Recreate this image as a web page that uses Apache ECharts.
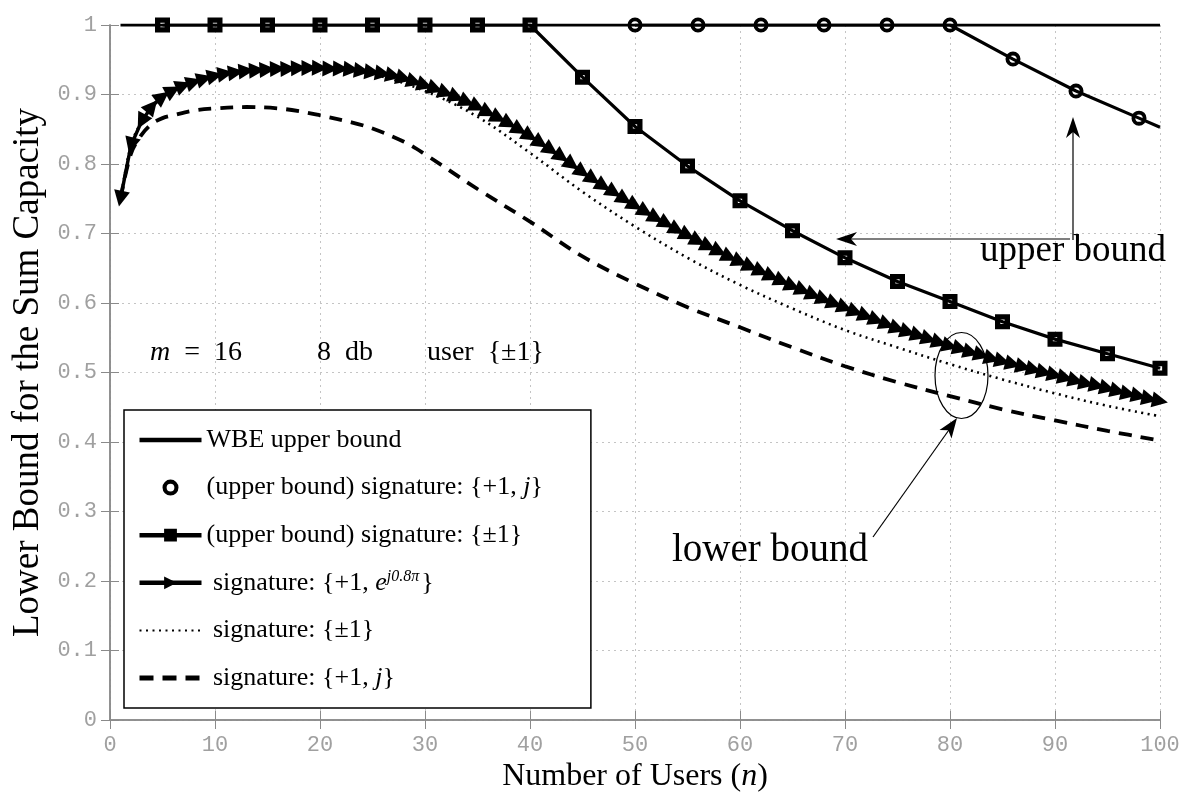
<!DOCTYPE html>
<html>
<head>
<meta charset="utf-8">
<script src="https://cdn.jsdelivr.net/npm/echarts@6/dist/echarts.min.js"></script>
<style>
  html, body { margin: 0; padding: 0; background: #fff; }
  #main { width: 1200px; height: 798px; }
</style>
</head>
<body>
<div id="main"></div>
<script>
// WBE upper bound
var wbeX = [1, 100];
var wbeY = [1, 1];
// (upper bound) signature {+1, j}  -- circles
var circX = [50, 56, 62, 68, 74, 80, 86, 92, 98, 100];
var circY = [1, 1, 1, 1, 1, 1, 0.951, 0.905, 0.866, 0.853];
// (upper bound) signature {±1}  -- squares
var sqX = [5, 10, 15, 20, 25, 30, 35, 40, 45, 50, 55, 60, 65, 70, 75, 80, 85, 90, 95, 100];
var sqY = [1, 1, 1, 1, 1, 1, 1, 1, 0.925, 0.854, 0.797, 0.747, 0.704, 0.665, 0.631, 0.602, 0.573, 0.548, 0.527, 0.506];
// signature {+1, e^{j0.8pi}}, n = 1..100
var triY = [
  0.750, 0.827, 0.861, 0.883, 0.897, 0.906, 0.913, 0.918, 0.923, 0.927,
  0.930, 0.932, 0.934, 0.935, 0.936, 0.937, 0.937, 0.938, 0.938, 0.938,
  0.937, 0.937, 0.936, 0.934, 0.932, 0.930, 0.927, 0.923, 0.918, 0.913,
  0.908, 0.902, 0.896, 0.889, 0.882, 0.874, 0.866, 0.858, 0.849, 0.840,
  0.830, 0.820, 0.810, 0.799, 0.788, 0.778, 0.768, 0.759, 0.749, 0.740,
  0.731, 0.722, 0.714, 0.705, 0.697, 0.689, 0.681, 0.674, 0.666, 0.659,
  0.652, 0.645, 0.638, 0.631, 0.624, 0.618, 0.611, 0.605, 0.599, 0.593,
  0.587, 0.581, 0.575, 0.569, 0.563, 0.558, 0.553, 0.548, 0.543, 0.538,
  0.534, 0.529, 0.525, 0.520, 0.516, 0.512, 0.508, 0.504, 0.500, 0.496,
  0.492, 0.488, 0.484, 0.481, 0.477, 0.473, 0.469, 0.466, 0.462, 0.459
];
// signature {±1}  -- dotted
var dotX = [1, 2, 3, 4, 5, 6, 8, 10, 13, 16, 20, 25, 30, 35, 40, 45, 50, 55, 60, 65, 70, 75, 80, 85, 90, 95, 100];
var dotY = [0.750, 0.827, 0.861, 0.883, 0.897, 0.906, 0.918, 0.927, 0.934, 0.937, 0.938, 0.929, 0.905, 0.868, 0.816,
  0.760, 0.710, 0.665, 0.626, 0.592, 0.561, 0.536, 0.512, 0.490, 0.470, 0.452, 0.437];
// signature {+1, j}  -- dashed
var dashX = [1, 2, 3, 4, 5, 6, 8, 10, 13, 16, 18, 20, 23, 25, 28, 30, 35, 40, 45, 50, 55, 60, 65, 70, 75, 80, 85, 90, 95, 100];
var dashY = [0.750, 0.815, 0.842, 0.858, 0.866, 0.870, 0.877, 0.880, 0.882, 0.880, 0.876, 0.870, 0.860, 0.851, 0.832,
  0.814, 0.764, 0.717, 0.667, 0.628, 0.594, 0.565, 0.536, 0.509, 0.486, 0.466, 0.447, 0.431, 0.416, 0.402];

var xTicks = [0, 100, 10];
var yTicks = [0, 1, 0.1];

function pairs(xs, ys) {
  return xs.map(function (x, i) { return [x, ys[i]]; });
}

// triangle markers follow the curve direction (first ones point back)
function triData() {
  var sx = 10.5, sy = 695;
  return triY.map(function (v, i) {
    var j0 = Math.max(i - 1, 0), j1 = Math.min(i + 1, triY.length - 1);
    var ang = Math.atan2((triY[j1] - triY[j0]) * sy, (j1 - j0) * sx) * 180 / Math.PI;
    if (i < 3) ang += 180;
    return { value: [i + 1, v], symbolRotate: ang - 90 };
  });
}

// thick-walled markers: black square / ring with a small white hole
var sqMark = 'path://M0,0L14,0L14,14L0,14Z M5,5L5,9L9,9L9,5Z';
var ringMark = 'path://M7,0A7,7 0 1,1 7,14A7,7 0 1,1 7,0Z M7,3.6A3.4,3.4 0 1,0 7,10.4A3.4,3.4 0 1,0 7,3.6Z';

var serif = 'Liberation Serif';
var mono = 'Liberation Mono';
var axisGray = '#8a8a8a';
var labelGray = '#a0a0a0';

var legendNames = {
  wbe: 'WBE upper bound',
  circ: '(upper bound) signature: {+1, {i|j}}',
  sq: '(upper bound) signature: {±1}',
  tri: ' signature: {+1, {i|e}{sup|j0.8π}}',
  dot: ' signature: {±1}',
  dash: ' signature: {+1, {i|j}}'
};
var noMark = { opacity: 0 };

var chart = echarts.init(document.getElementById('main'));
chart.setOption({
  animation: false,
  backgroundColor: '#fff',
  grid: { left: 110, right: 40, top: 25, bottom: 78 },
  xAxis: [{
    type: 'value', min: xTicks[0], max: xTicks[1], interval: xTicks[2],
    name: 'Number of Users ({i|n})', nameLocation: 'middle', nameGap: 34,
    nameTextStyle: { fontFamily: serif, fontSize: 32, color: '#000', rich: { i: { fontFamily: serif, fontSize: 32, fontStyle: 'italic' } } },
    axisLine: { lineStyle: { color: axisGray, width: 1.5 } },
    axisTick: { inside: true, length: 9, lineStyle: { color: axisGray } },
    axisLabel: { fontFamily: mono, fontSize: 22, color: labelGray, margin: 14 },
    splitLine: { show: true, lineStyle: { color: '#c4c4c4', type: [2, 4], width: 1 } }
  }, {
    type: 'value', position: 'top', min: xTicks[0], max: xTicks[1], interval: xTicks[2],
    axisLine: { lineStyle: { color: axisGray, width: 1.5 } },
    axisTick: { inside: true, length: 9, lineStyle: { color: axisGray } },
    axisLabel: { show: false }, splitLine: { show: false }
  }],
  yAxis: [{
    type: 'value', min: yTicks[0], max: yTicks[1], interval: yTicks[2],
    name: 'Lower Bound for the Sum Capacity', nameLocation: 'middle', nameGap: 63, nameRotate: 90,
    nameTextStyle: { fontFamily: serif, fontSize: 37, color: '#000' },
    axisLine: { lineStyle: { color: axisGray, width: 1.5 } },
    axisTick: { inside: true, length: 9, lineStyle: { color: axisGray } },
    axisLabel: { fontFamily: mono, fontSize: 22, color: labelGray, margin: 13 },
    splitLine: { show: true, lineStyle: { color: '#c4c4c4', type: [2, 4], width: 1 } }
  }, {
    type: 'value', position: 'right', min: yTicks[0], max: yTicks[1], interval: yTicks[2],
    axisLine: { lineStyle: { color: axisGray, width: 1.5 } },
    axisTick: { inside: true, length: 9, lineStyle: { color: axisGray } },
    axisLabel: { show: false }, splitLine: { show: false }
  }],
  legend: {
    orient: 'vertical', left: 124, top: 410,
    itemWidth: 62, itemHeight: 16, itemGap: 19.6,
    padding: [16, 48, 16, 13],
    backgroundColor: '#fff', borderColor: '#000', borderWidth: 1.5, borderRadius: 0,
    symbolRotate: -90,
    selectedMode: false,
    data: [
      { name: 'wbe', itemStyle: noMark, lineStyle: { width: 4.5 } },
      { name: 'circ', icon: ringMark },
      { name: 'sq', lineStyle: { width: 4.5 } },
      { name: 'tri', lineStyle: { width: 4.5 } },
      { name: 'dot', itemStyle: noMark },
      { name: 'dash', itemStyle: noMark, lineStyle: { width: 5, type: [14, 9] } }
    ],
    formatter: function (name) { return legendNames[name]; },
    textStyle: {
      fontFamily: serif, fontSize: 26, color: '#000', lineHeight: 28,
      rich: {
        i: { fontFamily: serif, fontSize: 26, fontStyle: 'italic', lineHeight: 28 },
        sup: { fontFamily: serif, fontSize: 16, fontStyle: 'italic', padding: [0, 2, 12, 0] }
      }
    }
  },
  series: [
    {
      name: 'wbe', type: 'line', data: pairs(wbeX, wbeY), symbol: 'none',
      lineStyle: { color: '#000', width: 3 }, itemStyle: { color: '#000' }, z: 3
    },
    {
      name: 'circ', type: 'line', data: pairs(circX, circY).map(function (p, i) {
        return i === circX.length - 1 ? { value: p, symbol: 'none' } : p;
      }),
      symbol: ringMark, symbolSize: 15,
      lineStyle: { color: '#000', width: 3.2 }, itemStyle: { color: '#000' }, z: 4
    },
    {
      name: 'sq', type: 'line', data: pairs(sqX, sqY),
      symbol: sqMark, symbolSize: 15,
      lineStyle: { color: '#000', width: 3.2 }, itemStyle: { color: '#000' }, z: 4
    },
    {
      name: 'tri', type: 'line', data: triData(),
      symbol: 'triangle', symbolSize: 16,
      lineStyle: { color: '#000', width: 3.5 }, itemStyle: { color: '#000' }, z: 5
    },
    {
      name: 'dot', type: 'line', data: pairs(dotX, dotY), symbol: 'none', smooth: 0.35,
      lineStyle: { color: '#000', width: 2.6, type: [2, 4.5] }, itemStyle: { color: '#000' }, z: 2
    },
    {
      name: 'dash', type: 'line', data: pairs(dashX, dashY), symbol: 'none', smooth: 0.35,
      lineStyle: { color: '#000', width: 3.8, type: [13, 9] }, itemStyle: { color: '#000' }, z: 2
    }
  ],
  graphic: [
    { type: 'text', left: 150, top: 339, z: 10, style: {
      text: '{i|m}\u2002=\u200216', fill: '#000', font: '28px "Liberation Serif"',
      rich: { i: { fontFamily: serif, fontSize: 28, fontStyle: 'italic' } } } },
    { type: 'text', left: 317, top: 339, z: 10, style: { text: '8\u2002db', fill: '#000', font: '28px "Liberation Serif"' } },
    { type: 'text', left: 427, top: 339, z: 10, style: { text: 'user\u2002{±1}', fill: '#000', font: '28px "Liberation Serif"' } },
    { type: 'text', left: 980, top: 233, z: 10, style: { text: 'upper bound', fill: '#000', font: '37px "Liberation Serif"' } },
    { type: 'text', left: 672, top: 531, z: 10, style: { text: 'lower bound', fill: '#000', font: '39px "Liberation Serif"' } },
    { type: 'line', z: 10, shape: { x1: 1073, y1: 240, x2: 1073, y2: 126 }, style: { stroke: '#000', lineWidth: 1.2 } },
    { type: 'polygon', z: 10, shape: { points: [[1073, 117], [1066, 138], [1073, 132], [1080, 138]] }, style: { fill: '#000' } },
    { type: 'line', z: 10, shape: { x1: 1070, y1: 239, x2: 845, y2: 239 }, style: { stroke: '#000', lineWidth: 1.2 } },
    { type: 'polygon', z: 10, shape: { points: [[836, 239], [857, 232], [851, 239], [857, 246]] }, style: { fill: '#000' } },
    { type: 'line', z: 10, shape: { x1: 873, y1: 537, x2: 951, y2: 427 }, style: { stroke: '#000', lineWidth: 1.2 } },
    { type: 'polygon', z: 10, shape: { points: [[957, 418], [951.5, 438.5], [948.3, 430.3], [939.5, 430]] }, style: { fill: '#000' } },
    { type: 'ellipse', z: 10, shape: { cx: 961.5, cy: 375.5, rx: 26.5, ry: 43 }, style: { stroke: '#000', fill: null, lineWidth: 1.2 } }
  ]
});
</script>
</body>
</html>
